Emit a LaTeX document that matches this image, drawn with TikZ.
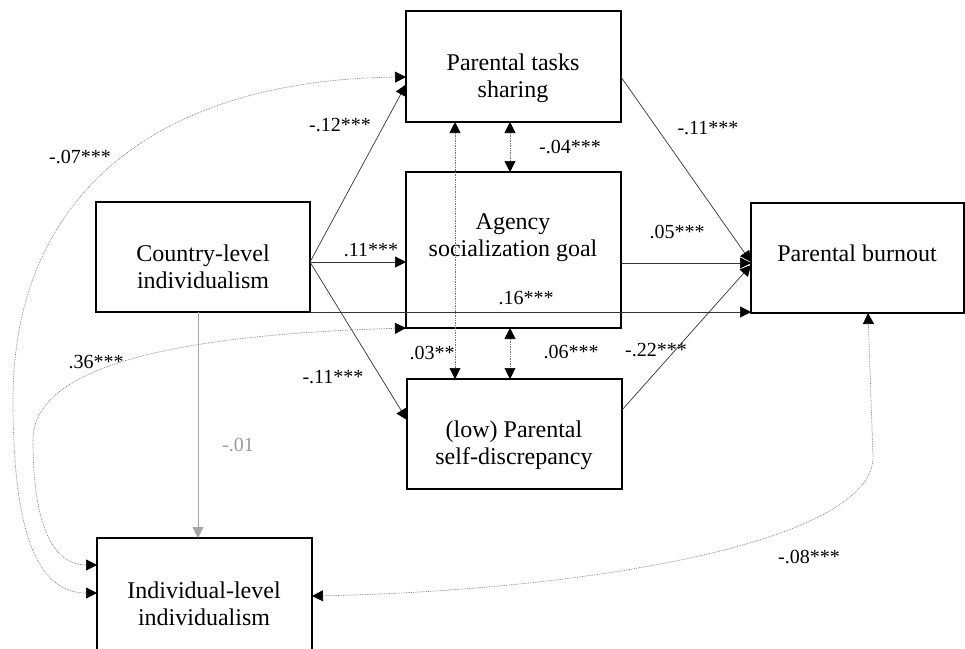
\documentclass[tikz,border=0pt]{standalone}
\usepackage{fontspec}
\setmainfont{Liberation Serif}
\usetikzlibrary{arrows.meta,calc}
\begin{document}
\begin{tikzpicture}[x=1pt,y=-1pt,
  box/.style={draw, line width=2pt, inner sep=0pt, outer sep=0pt},
  txt/.style={font=\fontsize{24}{27}\selectfont, align=center, inner sep=0pt},
  lbl/.style={font=\fontsize{20}{23}\selectfont, inner sep=0pt},
  conn/.style={line width=0.7pt, draw=black!80, -{Triangle[length=11pt,width=11pt,color=black]}},
  gconn/.style={line width=0.8pt, draw=black!35, -{Triangle[length=11pt,width=11pt,color=black!35]}},
  corr/.style={densely dotted, line width=0.7pt, draw=black!55, {Triangle[length=11pt,width=11pt,color=black]}-{Triangle[length=11pt,width=11pt,color=black]}},
]
\useasboundingbox (0,0) rectangle (965,648);

% boxes
\node[box, minimum width=215pt, minimum height=111pt] (tasks) at (513.5,66.5) {};
\node[box, minimum width=215pt, minimum height=156pt] (agency) at (513.5,250) {};
\node[box, minimum width=215pt, minimum height=110pt] (selfdisc) at (514.5,434) {};
\node[box, minimum width=213pt, minimum height=110pt] (burnout) at (857.5,258) {};
\node[box, minimum width=214pt, minimum height=110pt] (country) at (203,257) {};
\node[box, minimum width=215pt, minimum height=114pt] (individual) at (204.5,595) {};

% texts
\node[txt] (tasksT) at (513,78) {Parental tasks\\sharing};
\node[txt] (agencyT) at (513,238) {Agency\\socialization goal};
\node[txt] (selfdiscT) at (514,445) {(low) Parental\\self-discrepancy};
\node[txt] (burnoutT) at (857,253) {Parental burnout};
\node[txt] (countryT) at (203,267) {Country-level\\individualism};
\node[txt] (individualT) at (204,604) {Individual-level\\individualism};

% directed paths
\draw[conn] ([yshift=-5pt]country.east) -- ([yshift=-18pt]tasks.west);
\draw[conn] ([yshift=-5pt]country.east) -- ([yshift=-12pt]agency.west);
\draw[conn] ([yshift=-5pt]country.east) -- ([yshift=14pt]selfdisc.west);
\draw[conn] (country.south east) -- (country.south east -| burnout.west);
\draw[conn] ([yshift=-10.5pt]tasks.east) -- ([yshift=-4pt]burnout.west);
\draw[conn] ([yshift=-13pt]agency.east) -- ([yshift=-13pt]agency.east -| burnout.west);
\draw[conn] ([yshift=24pt]selfdisc.east) -- ([yshift=-7pt]burnout.west);
\draw[gconn] ([xshift=-5pt]country.south) -- ([xshift=-5pt]country.south |- individual.north);

% correlations
\draw[corr] ([xshift=-3.5pt]tasks.south) -- ([xshift=-3.5pt]tasks.south |- agency.north);
\draw[corr] ([xshift=-3.5pt]agency.south) -- ([xshift=-3.5pt]agency.south |- selfdisc.north);
\draw[corr] ([xshift=-58.5pt]tasks.south) -- ([xshift=-58.5pt]tasks.south |- selfdisc.north);
\draw[corr] ([yshift=-10.5pt]tasks.west) .. controls (150,80) and (13,200) .. (13,400)
   .. controls (13,540) and (40,593) .. ([yshift=2pt]individual.west);
\draw[corr] (agency.south west) .. controls (200,334) and (33,360) .. (33,440)
   .. controls (33,540) and (60,565) .. ([yshift=30pt]individual.west);
\draw[corr] ([yshift=-1pt]individual.east) .. controls (600,590) and (873,540) .. (873,457)
   -- ([xshift=10.5pt]burnout.south);

% labels
\node[lbl] (l1) at (340,125) {-.12***};
\node[lbl] (l2) at (371,250) {.11***};
\node[lbl] (l3) at (333,377) {-.11***};
\node[lbl] (l4) at (526,298) {.16***};
\node[lbl] (l5) at (708,128) {-.11***};
\node[lbl] (l6) at (677,232) {.05***};
\node[lbl] (l7) at (656,350) {-.22***};
\node[lbl, text=black!40] (l8) at (238,445) {-.01};
\node[lbl] (l9) at (570,147) {-.04***};
\node[lbl] (l10) at (571,352) {.06***};
\node[lbl] (l11) at (432,353) {.03**};
\node[lbl] (l12) at (80,157) {-.07***};
\node[lbl] (l13) at (96,362) {.36***};
\node[lbl] (l14) at (809,557) {-.08***};
\end{tikzpicture}
\end{document}
